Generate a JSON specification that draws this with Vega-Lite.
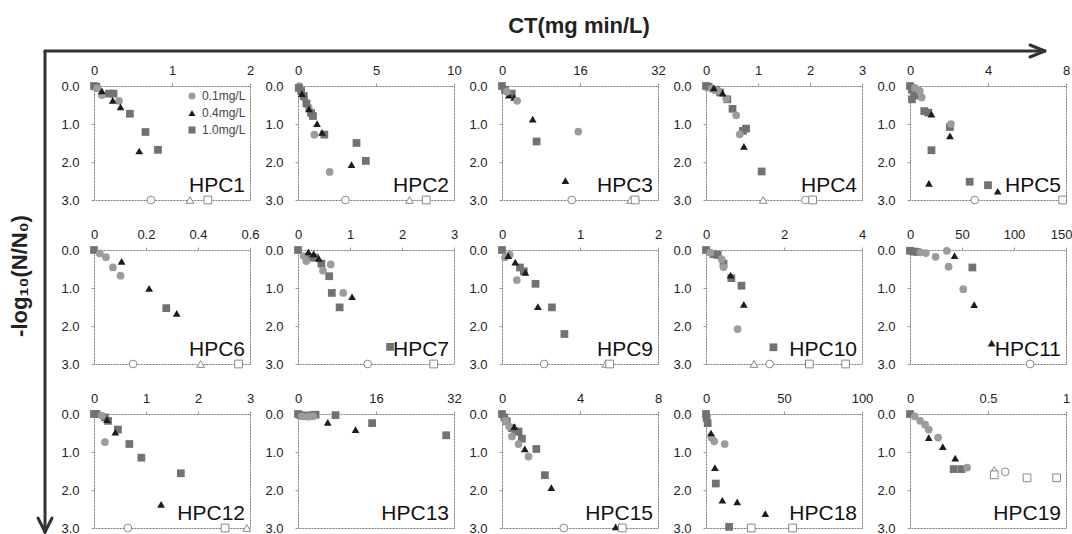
{
"$schema":"https://vega.github.io/schema/vega-lite/v6.json",
"padding":{"left":8,"top":14,"right":0,"bottom":0},
"background":"white",
"columns":5,
"spacing":{"row":50,"column":48},
"bounds":"flush",
"resolve":{"scale":{"x":"independent","y":"independent","color":"independent","shape":"independent"},"legend":{"color":"independent","shape":"independent"}},
"datasets":{"d":[
{"p":"HPC1","c":"1.0mg/L","x":0,"y":0,"o":0},{"p":"HPC1","c":"1.0mg/L","x":0.03,"y":0.02,"o":0},{"p":"HPC1","c":"1.0mg/L","x":0.19,"y":0.2,"o":0},{"p":"HPC1","c":"1.0mg/L","x":0.25,"y":0.2,"o":0},{"p":"HPC1","c":"1.0mg/L","x":0.46,"y":0.73,"o":0},{"p":"HPC1","c":"1.0mg/L","x":0.66,"y":1.21,"o":0},{"p":"HPC1","c":"1.0mg/L","x":0.82,"y":1.68,"o":0},
{"p":"HPC1","c":"0.1mg/L","x":0.04,"y":0.06,"o":0},{"p":"HPC1","c":"0.1mg/L","x":0.1,"y":0.24,"o":0},{"p":"HPC1","c":"0.1mg/L","x":0.32,"y":0.39,"o":0},
{"p":"HPC1","c":"0.4mg/L","x":0.1,"y":0.13,"o":0},{"p":"HPC1","c":"0.4mg/L","x":0.24,"y":0.38,"o":0},{"p":"HPC1","c":"0.4mg/L","x":0.34,"y":0.55,"o":0},{"p":"HPC1","c":"0.4mg/L","x":0.58,"y":1.71,"o":0},
{"p":"HPC1","c":"0.1mg/L","x":0.73,"y":3,"o":1},{"p":"HPC1","c":"0.4mg/L","x":1.23,"y":3,"o":1},{"p":"HPC1","c":"1.0mg/L","x":1.46,"y":3,"o":1},
{"p":"HPC2","c":"0.1mg/L","x":0.09,"y":0,"o":0},{"p":"HPC2","c":"0.1mg/L","x":0.4,"y":0.3,"o":0},{"p":"HPC2","c":"0.1mg/L","x":0.69,"y":0.57,"o":0},{"p":"HPC2","c":"0.1mg/L","x":1.05,"y":1.28,"o":0},{"p":"HPC2","c":"0.1mg/L","x":2.03,"y":2.26,"o":0},
{"p":"HPC2","c":"1.0mg/L","x":0.05,"y":0.05,"o":0},{"p":"HPC2","c":"1.0mg/L","x":0.2,"y":0.13,"o":0},{"p":"HPC2","c":"1.0mg/L","x":0.36,"y":0.26,"o":0},{"p":"HPC2","c":"1.0mg/L","x":0.54,"y":0.46,"o":0},{"p":"HPC2","c":"1.0mg/L","x":0.84,"y":0.71,"o":0},{"p":"HPC2","c":"1.0mg/L","x":0.96,"y":0.79,"o":0},{"p":"HPC2","c":"1.0mg/L","x":1.69,"y":1.28,"o":0},{"p":"HPC2","c":"1.0mg/L","x":3.75,"y":1.5,"o":0},{"p":"HPC2","c":"1.0mg/L","x":4.35,"y":1.97,"o":0},
{"p":"HPC2","c":"0.4mg/L","x":0.25,"y":0.2,"o":0},{"p":"HPC2","c":"0.4mg/L","x":0.7,"y":0.6,"o":0},{"p":"HPC2","c":"0.4mg/L","x":1.22,"y":0.99,"o":0},{"p":"HPC2","c":"0.4mg/L","x":1.54,"y":1.22,"o":0},{"p":"HPC2","c":"0.4mg/L","x":3.43,"y":2.07,"o":0},
{"p":"HPC2","c":"0.1mg/L","x":3.04,"y":3,"o":1},{"p":"HPC2","c":"0.4mg/L","x":7.15,"y":3,"o":1},{"p":"HPC2","c":"1.0mg/L","x":8.22,"y":3,"o":1},
{"p":"HPC3","c":"1.0mg/L","x":0,"y":0,"o":0},{"p":"HPC3","c":"1.0mg/L","x":0.6,"y":0.1,"o":0},{"p":"HPC3","c":"1.0mg/L","x":2,"y":0.2,"o":0},{"p":"HPC3","c":"1.0mg/L","x":7.1,"y":1.46,"o":0},
{"p":"HPC3","c":"0.4mg/L","x":1.4,"y":0.24,"o":0},{"p":"HPC3","c":"0.4mg/L","x":2.5,"y":0.3,"o":0},{"p":"HPC3","c":"0.4mg/L","x":6.3,"y":0.87,"o":0},{"p":"HPC3","c":"0.4mg/L","x":13,"y":2.49,"o":0},
{"p":"HPC3","c":"0.1mg/L","x":1,"y":0.15,"o":0},{"p":"HPC3","c":"0.1mg/L","x":3.1,"y":0.39,"o":0},{"p":"HPC3","c":"0.1mg/L","x":15.65,"y":1.2,"o":0},
{"p":"HPC3","c":"0.1mg/L","x":14.3,"y":3,"o":1},{"p":"HPC3","c":"0.4mg/L","x":26.4,"y":3,"o":1},{"p":"HPC3","c":"1.0mg/L","x":27.3,"y":3,"o":1},
{"p":"HPC4","c":"1.0mg/L","x":0,"y":0,"o":0},{"p":"HPC4","c":"1.0mg/L","x":0.05,"y":0.02,"o":0},{"p":"HPC4","c":"1.0mg/L","x":0.2,"y":0.1,"o":0},{"p":"HPC4","c":"1.0mg/L","x":0.27,"y":0.17,"o":0},{"p":"HPC4","c":"1.0mg/L","x":0.41,"y":0.35,"o":0},{"p":"HPC4","c":"1.0mg/L","x":0.51,"y":0.6,"o":0},{"p":"HPC4","c":"1.0mg/L","x":0.71,"y":1.18,"o":0},{"p":"HPC4","c":"1.0mg/L","x":0.77,"y":1.12,"o":0},{"p":"HPC4","c":"1.0mg/L","x":1.07,"y":2.25,"o":0},
{"p":"HPC4","c":"0.1mg/L","x":0.11,"y":0.07,"o":0},{"p":"HPC4","c":"0.1mg/L","x":0.22,"y":0.12,"o":0},{"p":"HPC4","c":"0.1mg/L","x":0.39,"y":0.33,"o":0},{"p":"HPC4","c":"0.1mg/L","x":0.58,"y":0.77,"o":0},{"p":"HPC4","c":"0.1mg/L","x":0.65,"y":1.27,"o":0},
{"p":"HPC4","c":"0.4mg/L","x":0.15,"y":0.05,"o":0},{"p":"HPC4","c":"0.4mg/L","x":0.32,"y":0.19,"o":0},{"p":"HPC4","c":"0.4mg/L","x":0.73,"y":1.59,"o":0},
{"p":"HPC4","c":"0.4mg/L","x":1.1,"y":3,"o":1},{"p":"HPC4","c":"0.1mg/L","x":1.91,"y":3,"o":1},{"p":"HPC4","c":"1.0mg/L","x":2.05,"y":3,"o":1},
{"p":"HPC5","c":"1.0mg/L","x":0,"y":0,"o":0},{"p":"HPC5","c":"1.0mg/L","x":0.1,"y":0.1,"o":0},{"p":"HPC5","c":"1.0mg/L","x":0.25,"y":0.25,"o":0},{"p":"HPC5","c":"1.0mg/L","x":0.1,"y":0.35,"o":0},{"p":"HPC5","c":"1.0mg/L","x":0.73,"y":0.66,"o":0},{"p":"HPC5","c":"1.0mg/L","x":0.94,"y":0.7,"o":0},{"p":"HPC5","c":"1.0mg/L","x":2.05,"y":1.08,"o":0},{"p":"HPC5","c":"1.0mg/L","x":1.1,"y":1.69,"o":0},{"p":"HPC5","c":"1.0mg/L","x":3.06,"y":2.52,"o":0},{"p":"HPC5","c":"1.0mg/L","x":4.0,"y":2.61,"o":0},
{"p":"HPC5","c":"0.1mg/L","x":0.5,"y":0.13,"o":0},{"p":"HPC5","c":"0.1mg/L","x":0.6,"y":0.3,"o":0},{"p":"HPC5","c":"0.1mg/L","x":0.25,"y":0.05,"o":0},{"p":"HPC5","c":"0.1mg/L","x":2.1,"y":1.0,"o":0},
{"p":"HPC5","c":"0.4mg/L","x":1.1,"y":0.74,"o":0},{"p":"HPC5","c":"0.4mg/L","x":2.05,"y":1.31,"o":0},{"p":"HPC5","c":"0.4mg/L","x":0.97,"y":2.56,"o":0},{"p":"HPC5","c":"0.4mg/L","x":4.5,"y":2.77,"o":0},
{"p":"HPC5","c":"0.1mg/L","x":3.32,"y":3,"o":1},{"p":"HPC5","c":"1.0mg/L","x":7.83,"y":3,"o":1},
{"p":"HPC6","c":"1.0mg/L","x":0,"y":0,"o":0},{"p":"HPC6","c":"1.0mg/L","x":0.278,"y":1.53,"o":0},
{"p":"HPC6","c":"0.1mg/L","x":0.0225,"y":0.09,"o":0},{"p":"HPC6","c":"0.1mg/L","x":0.046,"y":0.19,"o":0},{"p":"HPC6","c":"0.1mg/L","x":0.073,"y":0.46,"o":0},{"p":"HPC6","c":"0.1mg/L","x":0.102,"y":0.675,"o":0},
{"p":"HPC6","c":"0.4mg/L","x":0.106,"y":0.3,"o":0},{"p":"HPC6","c":"0.4mg/L","x":0.212,"y":1.01,"o":0},{"p":"HPC6","c":"0.4mg/L","x":0.318,"y":1.67,"o":0},
{"p":"HPC6","c":"0.1mg/L","x":0.15,"y":3,"o":1},{"p":"HPC6","c":"0.4mg/L","x":0.41,"y":3,"o":1},{"p":"HPC6","c":"1.0mg/L","x":0.556,"y":3,"o":1},
{"p":"HPC7","c":"1.0mg/L","x":0,"y":0,"o":0},{"p":"HPC7","c":"1.0mg/L","x":0.24,"y":0.2,"o":0},{"p":"HPC7","c":"1.0mg/L","x":0.33,"y":0.2,"o":0},{"p":"HPC7","c":"1.0mg/L","x":0.45,"y":0.36,"o":0},{"p":"HPC7","c":"1.0mg/L","x":0.6,"y":0.69,"o":0},{"p":"HPC7","c":"1.0mg/L","x":0.65,"y":1.13,"o":0},{"p":"HPC7","c":"1.0mg/L","x":0.8,"y":1.51,"o":0},{"p":"HPC7","c":"1.0mg/L","x":1.77,"y":2.55,"o":0},
{"p":"HPC7","c":"0.1mg/L","x":0.11,"y":0.16,"o":0},{"p":"HPC7","c":"0.1mg/L","x":0.16,"y":0.29,"o":0},{"p":"HPC7","c":"0.1mg/L","x":0.48,"y":0.54,"o":0},{"p":"HPC7","c":"0.1mg/L","x":0.63,"y":0.38,"o":0},{"p":"HPC7","c":"0.1mg/L","x":0.87,"y":1.13,"o":0},
{"p":"HPC7","c":"0.4mg/L","x":0.2,"y":0.05,"o":0},{"p":"HPC7","c":"0.4mg/L","x":0.3,"y":0.1,"o":0},{"p":"HPC7","c":"0.4mg/L","x":0.4,"y":0.22,"o":0},{"p":"HPC7","c":"0.4mg/L","x":1.04,"y":1.23,"o":0},
{"p":"HPC7","c":"0.1mg/L","x":1.34,"y":3,"o":1},{"p":"HPC7","c":"1.0mg/L","x":2.61,"y":3,"o":1},
{"p":"HPC9","c":"1.0mg/L","x":0,"y":0,"o":0},{"p":"HPC9","c":"1.0mg/L","x":0.23,"y":0.46,"o":0},{"p":"HPC9","c":"1.0mg/L","x":0.28,"y":0.56,"o":0},{"p":"HPC9","c":"1.0mg/L","x":0.43,"y":0.89,"o":0},{"p":"HPC9","c":"1.0mg/L","x":0.64,"y":1.51,"o":0},{"p":"HPC9","c":"1.0mg/L","x":0.8,"y":2.21,"o":0},
{"p":"HPC9","c":"0.1mg/L","x":0.04,"y":0.19,"o":0},{"p":"HPC9","c":"0.1mg/L","x":0.19,"y":0.79,"o":0},{"p":"HPC9","c":"0.1mg/L","x":0.1,"y":0.12,"o":0},
{"p":"HPC9","c":"0.4mg/L","x":0.08,"y":0.15,"o":0},{"p":"HPC9","c":"0.4mg/L","x":0.17,"y":0.32,"o":0},{"p":"HPC9","c":"0.4mg/L","x":0.3,"y":0.59,"o":0},{"p":"HPC9","c":"0.4mg/L","x":0.46,"y":1.49,"o":0},
{"p":"HPC9","c":"0.1mg/L","x":0.54,"y":3,"o":1},{"p":"HPC9","c":"0.4mg/L","x":1.33,"y":3,"o":1},{"p":"HPC9","c":"1.0mg/L","x":1.38,"y":3,"o":1},
{"p":"HPC10","c":"1.0mg/L","x":0,"y":0,"o":0},{"p":"HPC10","c":"1.0mg/L","x":0.19,"y":0.11,"o":0},{"p":"HPC10","c":"1.0mg/L","x":0.3,"y":0.13,"o":0},{"p":"HPC10","c":"1.0mg/L","x":0.45,"y":0.36,"o":0},{"p":"HPC10","c":"1.0mg/L","x":0.65,"y":0.74,"o":0},{"p":"HPC10","c":"1.0mg/L","x":0.91,"y":0.94,"o":0},{"p":"HPC10","c":"1.0mg/L","x":1.73,"y":2.56,"o":0},
{"p":"HPC10","c":"0.1mg/L","x":0.11,"y":0.07,"o":0},{"p":"HPC10","c":"0.1mg/L","x":0.4,"y":0.24,"o":0},{"p":"HPC10","c":"0.1mg/L","x":0.45,"y":0.45,"o":0},{"p":"HPC10","c":"0.1mg/L","x":0.81,"y":2.08,"o":0},
{"p":"HPC10","c":"0.4mg/L","x":0.63,"y":0.66,"o":0},{"p":"HPC10","c":"0.4mg/L","x":0.97,"y":1.43,"o":0},
{"p":"HPC10","c":"0.4mg/L","x":1.23,"y":3,"o":1},{"p":"HPC10","c":"0.1mg/L","x":1.63,"y":3,"o":1},{"p":"HPC10","c":"1.0mg/L","x":2.65,"y":3,"o":1},{"p":"HPC10","c":"1.0mg/L","x":3.58,"y":3,"o":1},
{"p":"HPC11","c":"1.0mg/L","x":0,"y":0.02,"o":0},{"p":"HPC11","c":"1.0mg/L","x":3.4,"y":0.04,"o":0},{"p":"HPC11","c":"1.0mg/L","x":6.7,"y":0.05,"o":0},{"p":"HPC11","c":"1.0mg/L","x":60,"y":0.46,"o":0},
{"p":"HPC11","c":"0.1mg/L","x":10,"y":0.06,"o":0},{"p":"HPC11","c":"0.1mg/L","x":15.2,"y":0.08,"o":0},{"p":"HPC11","c":"0.1mg/L","x":24.6,"y":0.18,"o":0},{"p":"HPC11","c":"0.1mg/L","x":35.4,"y":0.02,"o":0},{"p":"HPC11","c":"0.1mg/L","x":37.1,"y":0.44,"o":0},{"p":"HPC11","c":"0.1mg/L","x":51.2,"y":1.03,"o":0},
{"p":"HPC11","c":"0.4mg/L","x":42.8,"y":0.15,"o":0},{"p":"HPC11","c":"0.4mg/L","x":61.7,"y":1.44,"o":0},{"p":"HPC11","c":"0.4mg/L","x":78.5,"y":2.45,"o":0},
{"p":"HPC11","c":"0.1mg/L","x":115.6,"y":3,"o":1},
{"p":"HPC12","c":"1.0mg/L","x":0,"y":0,"o":0},{"p":"HPC12","c":"1.0mg/L","x":0.05,"y":0,"o":0},{"p":"HPC12","c":"1.0mg/L","x":0.21,"y":0.09,"o":0},{"p":"HPC12","c":"1.0mg/L","x":0.27,"y":0.18,"o":0},{"p":"HPC12","c":"1.0mg/L","x":0.46,"y":0.41,"o":0},{"p":"HPC12","c":"1.0mg/L","x":0.68,"y":0.79,"o":0},{"p":"HPC12","c":"1.0mg/L","x":0.91,"y":1.15,"o":0},{"p":"HPC12","c":"1.0mg/L","x":1.67,"y":1.56,"o":0},
{"p":"HPC12","c":"0.1mg/L","x":0.15,"y":0.04,"o":0},{"p":"HPC12","c":"0.1mg/L","x":0.21,"y":0.74,"o":0},
{"p":"HPC12","c":"0.4mg/L","x":0.25,"y":0.15,"o":0},{"p":"HPC12","c":"0.4mg/L","x":0.41,"y":0.48,"o":0},{"p":"HPC12","c":"0.4mg/L","x":1.29,"y":2.38,"o":0},
{"p":"HPC12","c":"0.1mg/L","x":0.65,"y":3,"o":1},{"p":"HPC12","c":"1.0mg/L","x":2.52,"y":3,"o":1},{"p":"HPC12","c":"0.4mg/L","x":2.94,"y":3,"o":1},
{"p":"HPC13","c":"1.0mg/L","x":0,"y":0,"o":0},{"p":"HPC13","c":"1.0mg/L","x":0.5,"y":0.03,"o":0},{"p":"HPC13","c":"1.0mg/L","x":1.2,"y":0.05,"o":0},{"p":"HPC13","c":"1.0mg/L","x":1.9,"y":0.04,"o":0},{"p":"HPC13","c":"1.0mg/L","x":2.9,"y":0.03,"o":0},{"p":"HPC13","c":"1.0mg/L","x":3.6,"y":0.02,"o":0},{"p":"HPC13","c":"1.0mg/L","x":7.7,"y":0.03,"o":0},{"p":"HPC13","c":"1.0mg/L","x":15.2,"y":0.24,"o":0},{"p":"HPC13","c":"1.0mg/L","x":30.4,"y":0.56,"o":0},
{"p":"HPC13","c":"0.1mg/L","x":0.8,"y":0.06,"o":0},{"p":"HPC13","c":"0.1mg/L","x":2.2,"y":0.07,"o":0},{"p":"HPC13","c":"0.1mg/L","x":3.1,"y":0.06,"o":0},
{"p":"HPC13","c":"0.4mg/L","x":6.1,"y":0.22,"o":0},{"p":"HPC13","c":"0.4mg/L","x":11.8,"y":0.41,"o":0},
{"p":"HPC15","c":"1.0mg/L","x":0,"y":0,"o":0},{"p":"HPC15","c":"1.0mg/L","x":0.12,"y":0.09,"o":0},{"p":"HPC15","c":"1.0mg/L","x":0.24,"y":0.19,"o":0},{"p":"HPC15","c":"1.0mg/L","x":0.51,"y":0.37,"o":0},{"p":"HPC15","c":"1.0mg/L","x":0.68,"y":0.46,"o":0},{"p":"HPC15","c":"1.0mg/L","x":0.85,"y":0.46,"o":0},{"p":"HPC15","c":"1.0mg/L","x":1.02,"y":0.65,"o":0},{"p":"HPC15","c":"1.0mg/L","x":1.76,"y":0.92,"o":0},{"p":"HPC15","c":"1.0mg/L","x":2.2,"y":1.61,"o":0},
{"p":"HPC15","c":"0.1mg/L","x":0.17,"y":0.18,"o":0},{"p":"HPC15","c":"0.1mg/L","x":0.37,"y":0.33,"o":0},{"p":"HPC15","c":"0.1mg/L","x":0.51,"y":0.59,"o":0},{"p":"HPC15","c":"0.1mg/L","x":0.85,"y":0.79,"o":0},{"p":"HPC15","c":"0.1mg/L","x":1.36,"y":1.12,"o":0},
{"p":"HPC15","c":"0.4mg/L","x":0.63,"y":0.33,"o":0},{"p":"HPC15","c":"0.4mg/L","x":1.17,"y":0.92,"o":0},{"p":"HPC15","c":"0.4mg/L","x":2.53,"y":1.94,"o":0},{"p":"HPC15","c":"0.4mg/L","x":5.83,"y":2.97,"o":0},
{"p":"HPC15","c":"0.1mg/L","x":3.17,"y":3,"o":1},{"p":"HPC15","c":"1.0mg/L","x":6.17,"y":3,"o":1},
{"p":"HPC18","c":"1.0mg/L","x":0,"y":0,"o":0},{"p":"HPC18","c":"1.0mg/L","x":0.4,"y":0.1,"o":0},{"p":"HPC18","c":"1.0mg/L","x":1.05,"y":0.24,"o":0},{"p":"HPC18","c":"1.0mg/L","x":6.3,"y":1.83,"o":0},{"p":"HPC18","c":"1.0mg/L","x":14.8,"y":2.97,"o":0},
{"p":"HPC18","c":"0.1mg/L","x":5.3,"y":0.72,"o":0},{"p":"HPC18","c":"0.1mg/L","x":3.5,"y":0.62,"o":0},{"p":"HPC18","c":"0.1mg/L","x":12,"y":0.79,"o":0},
{"p":"HPC18","c":"0.4mg/L","x":3.2,"y":0.5,"o":0},{"p":"HPC18","c":"0.4mg/L","x":5.7,"y":1.41,"o":0},{"p":"HPC18","c":"0.4mg/L","x":10.5,"y":2.27,"o":0},{"p":"HPC18","c":"0.4mg/L","x":20,"y":2.31,"o":0},{"p":"HPC18","c":"0.4mg/L","x":38,"y":2.62,"o":0},
{"p":"HPC18","c":"1.0mg/L","x":29,"y":3,"o":1},{"p":"HPC18","c":"1.0mg/L","x":55.5,"y":3,"o":1},
{"p":"HPC19","c":"1.0mg/L","x":0,"y":0,"o":0},{"p":"HPC19","c":"1.0mg/L","x":0.28,"y":1.45,"o":0},{"p":"HPC19","c":"1.0mg/L","x":0.33,"y":1.45,"o":0},
{"p":"HPC19","c":"0.1mg/L","x":0.03,"y":0.06,"o":0},{"p":"HPC19","c":"0.1mg/L","x":0.065,"y":0.18,"o":0},{"p":"HPC19","c":"0.1mg/L","x":0.097,"y":0.28,"o":0},{"p":"HPC19","c":"0.1mg/L","x":0.12,"y":0.41,"o":0},{"p":"HPC19","c":"0.1mg/L","x":0.18,"y":0.62,"o":0},{"p":"HPC19","c":"0.1mg/L","x":0.366,"y":1.41,"o":0},
{"p":"HPC19","c":"0.4mg/L","x":0.12,"y":0.62,"o":0},{"p":"HPC19","c":"0.4mg/L","x":0.21,"y":0.86,"o":0},{"p":"HPC19","c":"0.4mg/L","x":0.29,"y":1.16,"o":0},
{"p":"HPC19","c":"0.4mg/L","x":0.54,"y":1.47,"o":1},{"p":"HPC19","c":"1.0mg/L","x":0.54,"y":1.6,"o":1},{"p":"HPC19","c":"0.1mg/L","x":0.61,"y":1.52,"o":1},{"p":"HPC19","c":"1.0mg/L","x":0.75,"y":1.68,"o":1},{"p":"HPC19","c":"1.0mg/L","x":0.94,"y":1.68,"o":1}
],
"arrows":[
{"x":-0.628,"x2":12.19,"y":-0.921,"y2":-0.921},
{"x":12.0,"x2":12.19,"y":-1.079,"y2":-0.921},
{"x":12.0,"x2":12.19,"y":-0.763,"y2":-0.921},
{"x":-0.628,"x2":-0.628,"y":-0.921,"y2":11.737},
{"x":-0.718,"x2":-0.628,"y":11.368,"y2":11.737},
{"x":-0.538,"x2":-0.628,"y":11.368,"y2":11.737}
],
"titles":[
{"x":6.218,"y":-1.579,"t":"CT(mg min/L)","a":0,"s":22},
{"x":-0.949,"y":5.0,"t":"-log₁₀(N/N₀)","a":270,"s":22}
]},
"concat":[
{"width":156,"height":114,"data":{"name":"d"},"transform":[{"filter":"datum.p=='HPC1'"}],
 "encoding":{"x":{"field":"x","type":"quantitative","scale":{"domain":[0,2],"nice":false,"zero":false},"axis":{"orient":"top","values":[0,1,2],"format":"~f","title":null}},
  "y":{"field":"y","type":"quantitative","scale":{"domain":[0,3],"reverse":true,"nice":false},"axis":{"values":[0,1,2,3],"format":".1f","title":null}}},
 "layer":[
  {"transform":[{"filter":"datum.o==0"}],"mark":{"type":"point","filled":true,"size":60,"opacity":1},
   "encoding":{"color":{"field":"c","type":"nominal","scale":{"domain":["0.1mg/L","0.4mg/L","1.0mg/L"],"range":["#9c9c9c","#1c1c1c","#727272"]},"legend":{"orient":"top-right","title":null,"labelFontSize":12,"labelColor":"#444","symbolSize":50,"rowPadding":3,"offset":4,"padding":0,"symbolOpacity":1}},
    "shape":{"field":"c","type":"nominal","scale":{"domain":["0.1mg/L","0.4mg/L","1.0mg/L"],"range":["circle","triangle-up","square"]},"legend":{"orient":"top-right","title":null,"labelFontSize":12,"labelColor":"#444","symbolSize":50,"rowPadding":3,"offset":4,"padding":0,"symbolOpacity":1}}}},
  {"transform":[{"filter":"datum.o==1"}],"mark":{"type":"point","filled":true,"fill":"white","stroke":"#888","strokeWidth":1,"size":60,"opacity":1},
   "encoding":{"shape":{"field":"c","type":"nominal","scale":{"domain":["0.1mg/L","0.4mg/L","1.0mg/L"],"range":["circle","triangle-up","square"]},"legend":{"orient":"top-right","title":null,"labelFontSize":12,"labelColor":"#444","symbolSize":50,"rowPadding":3,"offset":4,"padding":0,"symbolOpacity":1}}}},
  {"data":{"values":[{}]},"mark":{"type":"text","align":"right","baseline":"alphabetic","dx":-5,"dy":-8,"fontSize":21,"color":"#111"},"encoding":{"x":{"value":"width"},"y":{"value":"height"},"text":{"value":"HPC1"}}},
  {"data":{"name":"arrows"},"mark":{"type":"rule","strokeWidth":3,"color":"#333","strokeCap":"round"},"encoding":{"x2":{"field":"x2"},"y2":{"field":"y2"}}},
  {"data":{"name":"titles"},"mark":{"type":"text","align":"center","baseline":"middle","fontWeight":"bold","color":"#222"},"encoding":{"text":{"field":"t","type":"nominal"},"angle":{"field":"a","type":"quantitative","scale":null},"size":{"field":"s","type":"quantitative","scale":null}}}
 ]},
{"width":156,"height":114,"data":{"name":"d"},"transform":[{"filter":"datum.p=='HPC2'"}],
 "encoding":{"x":{"field":"x","type":"quantitative","scale":{"domain":[0,10],"nice":false,"zero":false},"axis":{"orient":"top","values":[0,5,10],"format":"~f","title":null}},
  "y":{"field":"y","type":"quantitative","scale":{"domain":[0,3],"reverse":true,"nice":false},"axis":{"values":[0,1,2,3],"format":".1f","title":null}}},
 "layer":[
  {"transform":[{"filter":"datum.o==0"}],"mark":{"type":"point","filled":true,"size":60,"opacity":1},"encoding":{"color":{"field":"c","type":"nominal","scale":{"domain":["0.1mg/L","0.4mg/L","1.0mg/L"],"range":["#9c9c9c","#1c1c1c","#727272"]},"legend":null},"shape":{"field":"c","type":"nominal","scale":{"domain":["0.1mg/L","0.4mg/L","1.0mg/L"],"range":["circle","triangle-up","square"]},"legend":null}}},
  {"transform":[{"filter":"datum.o==1"}],"mark":{"type":"point","filled":true,"fill":"white","stroke":"#888","strokeWidth":1,"size":60,"opacity":1},"encoding":{"shape":{"field":"c","type":"nominal","scale":{"domain":["0.1mg/L","0.4mg/L","1.0mg/L"],"range":["circle","triangle-up","square"]},"legend":null}}},
  {"data":{"values":[{}]},"mark":{"type":"text","align":"right","baseline":"alphabetic","dx":-5,"dy":-8,"fontSize":21,"color":"#111"},"encoding":{"x":{"value":"width"},"y":{"value":"height"},"text":{"value":"HPC2"}}}
 ]},
{"width":156,"height":114,"data":{"name":"d"},"transform":[{"filter":"datum.p=='HPC3'"}],
 "encoding":{"x":{"field":"x","type":"quantitative","scale":{"domain":[0,32],"nice":false,"zero":false},"axis":{"orient":"top","values":[0,16,32],"format":"~f","title":null}},
  "y":{"field":"y","type":"quantitative","scale":{"domain":[0,3],"reverse":true,"nice":false},"axis":{"values":[0,1,2,3],"format":".1f","title":null}}},
 "layer":[
  {"transform":[{"filter":"datum.o==0"}],"mark":{"type":"point","filled":true,"size":60,"opacity":1},"encoding":{"color":{"field":"c","type":"nominal","scale":{"domain":["0.1mg/L","0.4mg/L","1.0mg/L"],"range":["#9c9c9c","#1c1c1c","#727272"]},"legend":null},"shape":{"field":"c","type":"nominal","scale":{"domain":["0.1mg/L","0.4mg/L","1.0mg/L"],"range":["circle","triangle-up","square"]},"legend":null}}},
  {"transform":[{"filter":"datum.o==1"}],"mark":{"type":"point","filled":true,"fill":"white","stroke":"#888","strokeWidth":1,"size":60,"opacity":1},"encoding":{"shape":{"field":"c","type":"nominal","scale":{"domain":["0.1mg/L","0.4mg/L","1.0mg/L"],"range":["circle","triangle-up","square"]},"legend":null}}},
  {"data":{"values":[{}]},"mark":{"type":"text","align":"right","baseline":"alphabetic","dx":-5,"dy":-8,"fontSize":21,"color":"#111"},"encoding":{"x":{"value":"width"},"y":{"value":"height"},"text":{"value":"HPC3"}}}
 ]},
{"width":156,"height":114,"data":{"name":"d"},"transform":[{"filter":"datum.p=='HPC4'"}],
 "encoding":{"x":{"field":"x","type":"quantitative","scale":{"domain":[0,3],"nice":false,"zero":false},"axis":{"orient":"top","values":[0,1,2,3],"format":"~f","title":null}},
  "y":{"field":"y","type":"quantitative","scale":{"domain":[0,3],"reverse":true,"nice":false},"axis":{"values":[0,1,2,3],"format":".1f","title":null}}},
 "layer":[
  {"transform":[{"filter":"datum.o==0"}],"mark":{"type":"point","filled":true,"size":60,"opacity":1},"encoding":{"color":{"field":"c","type":"nominal","scale":{"domain":["0.1mg/L","0.4mg/L","1.0mg/L"],"range":["#9c9c9c","#1c1c1c","#727272"]},"legend":null},"shape":{"field":"c","type":"nominal","scale":{"domain":["0.1mg/L","0.4mg/L","1.0mg/L"],"range":["circle","triangle-up","square"]},"legend":null}}},
  {"transform":[{"filter":"datum.o==1"}],"mark":{"type":"point","filled":true,"fill":"white","stroke":"#888","strokeWidth":1,"size":60,"opacity":1},"encoding":{"shape":{"field":"c","type":"nominal","scale":{"domain":["0.1mg/L","0.4mg/L","1.0mg/L"],"range":["circle","triangle-up","square"]},"legend":null}}},
  {"data":{"values":[{}]},"mark":{"type":"text","align":"right","baseline":"alphabetic","dx":-5,"dy":-8,"fontSize":21,"color":"#111"},"encoding":{"x":{"value":"width"},"y":{"value":"height"},"text":{"value":"HPC4"}}}
 ]},
{"width":156,"height":114,"data":{"name":"d"},"transform":[{"filter":"datum.p=='HPC5'"}],
 "encoding":{"x":{"field":"x","type":"quantitative","scale":{"domain":[0,8],"nice":false,"zero":false},"axis":{"orient":"top","values":[0,4,8],"format":"~f","title":null}},
  "y":{"field":"y","type":"quantitative","scale":{"domain":[0,3],"reverse":true,"nice":false},"axis":{"values":[0,1,2,3],"format":".1f","title":null}}},
 "layer":[
  {"transform":[{"filter":"datum.o==0"}],"mark":{"type":"point","filled":true,"size":60,"opacity":1},"encoding":{"color":{"field":"c","type":"nominal","scale":{"domain":["0.1mg/L","0.4mg/L","1.0mg/L"],"range":["#9c9c9c","#1c1c1c","#727272"]},"legend":null},"shape":{"field":"c","type":"nominal","scale":{"domain":["0.1mg/L","0.4mg/L","1.0mg/L"],"range":["circle","triangle-up","square"]},"legend":null}}},
  {"transform":[{"filter":"datum.o==1"}],"mark":{"type":"point","filled":true,"fill":"white","stroke":"#888","strokeWidth":1,"size":60,"opacity":1},"encoding":{"shape":{"field":"c","type":"nominal","scale":{"domain":["0.1mg/L","0.4mg/L","1.0mg/L"],"range":["circle","triangle-up","square"]},"legend":null}}},
  {"data":{"values":[{}]},"mark":{"type":"text","align":"right","baseline":"alphabetic","dx":-5,"dy":-8,"fontSize":21,"color":"#111"},"encoding":{"x":{"value":"width"},"y":{"value":"height"},"text":{"value":"HPC5"}}}
 ]},
{"width":156,"height":114,"data":{"name":"d"},"transform":[{"filter":"datum.p=='HPC6'"}],
 "encoding":{"x":{"field":"x","type":"quantitative","scale":{"domain":[0,0.6],"nice":false,"zero":false},"axis":{"orient":"top","values":[0,0.2,0.4,0.6],"format":"~f","title":null}},
  "y":{"field":"y","type":"quantitative","scale":{"domain":[0,3],"reverse":true,"nice":false},"axis":{"values":[0,1,2,3],"format":".1f","title":null}}},
 "layer":[
  {"transform":[{"filter":"datum.o==0"}],"mark":{"type":"point","filled":true,"size":60,"opacity":1},"encoding":{"color":{"field":"c","type":"nominal","scale":{"domain":["0.1mg/L","0.4mg/L","1.0mg/L"],"range":["#9c9c9c","#1c1c1c","#727272"]},"legend":null},"shape":{"field":"c","type":"nominal","scale":{"domain":["0.1mg/L","0.4mg/L","1.0mg/L"],"range":["circle","triangle-up","square"]},"legend":null}}},
  {"transform":[{"filter":"datum.o==1"}],"mark":{"type":"point","filled":true,"fill":"white","stroke":"#888","strokeWidth":1,"size":60,"opacity":1},"encoding":{"shape":{"field":"c","type":"nominal","scale":{"domain":["0.1mg/L","0.4mg/L","1.0mg/L"],"range":["circle","triangle-up","square"]},"legend":null}}},
  {"data":{"values":[{}]},"mark":{"type":"text","align":"right","baseline":"alphabetic","dx":-5,"dy":-8,"fontSize":21,"color":"#111"},"encoding":{"x":{"value":"width"},"y":{"value":"height"},"text":{"value":"HPC6"}}}
 ]},
{"width":156,"height":114,"data":{"name":"d"},"transform":[{"filter":"datum.p=='HPC7'"}],
 "encoding":{"x":{"field":"x","type":"quantitative","scale":{"domain":[0,3],"nice":false,"zero":false},"axis":{"orient":"top","values":[0,1,2,3],"format":"~f","title":null}},
  "y":{"field":"y","type":"quantitative","scale":{"domain":[0,3],"reverse":true,"nice":false},"axis":{"values":[0,1,2,3],"format":".1f","title":null}}},
 "layer":[
  {"transform":[{"filter":"datum.o==0"}],"mark":{"type":"point","filled":true,"size":60,"opacity":1},"encoding":{"color":{"field":"c","type":"nominal","scale":{"domain":["0.1mg/L","0.4mg/L","1.0mg/L"],"range":["#9c9c9c","#1c1c1c","#727272"]},"legend":null},"shape":{"field":"c","type":"nominal","scale":{"domain":["0.1mg/L","0.4mg/L","1.0mg/L"],"range":["circle","triangle-up","square"]},"legend":null}}},
  {"transform":[{"filter":"datum.o==1"}],"mark":{"type":"point","filled":true,"fill":"white","stroke":"#888","strokeWidth":1,"size":60,"opacity":1},"encoding":{"shape":{"field":"c","type":"nominal","scale":{"domain":["0.1mg/L","0.4mg/L","1.0mg/L"],"range":["circle","triangle-up","square"]},"legend":null}}},
  {"data":{"values":[{}]},"mark":{"type":"text","align":"right","baseline":"alphabetic","dx":-5,"dy":-8,"fontSize":21,"color":"#111"},"encoding":{"x":{"value":"width"},"y":{"value":"height"},"text":{"value":"HPC7"}}}
 ]},
{"width":156,"height":114,"data":{"name":"d"},"transform":[{"filter":"datum.p=='HPC9'"}],
 "encoding":{"x":{"field":"x","type":"quantitative","scale":{"domain":[0,2],"nice":false,"zero":false},"axis":{"orient":"top","values":[0,1,2],"format":"~f","title":null}},
  "y":{"field":"y","type":"quantitative","scale":{"domain":[0,3],"reverse":true,"nice":false},"axis":{"values":[0,1,2,3],"format":".1f","title":null}}},
 "layer":[
  {"transform":[{"filter":"datum.o==0"}],"mark":{"type":"point","filled":true,"size":60,"opacity":1},"encoding":{"color":{"field":"c","type":"nominal","scale":{"domain":["0.1mg/L","0.4mg/L","1.0mg/L"],"range":["#9c9c9c","#1c1c1c","#727272"]},"legend":null},"shape":{"field":"c","type":"nominal","scale":{"domain":["0.1mg/L","0.4mg/L","1.0mg/L"],"range":["circle","triangle-up","square"]},"legend":null}}},
  {"transform":[{"filter":"datum.o==1"}],"mark":{"type":"point","filled":true,"fill":"white","stroke":"#888","strokeWidth":1,"size":60,"opacity":1},"encoding":{"shape":{"field":"c","type":"nominal","scale":{"domain":["0.1mg/L","0.4mg/L","1.0mg/L"],"range":["circle","triangle-up","square"]},"legend":null}}},
  {"data":{"values":[{}]},"mark":{"type":"text","align":"right","baseline":"alphabetic","dx":-5,"dy":-8,"fontSize":21,"color":"#111"},"encoding":{"x":{"value":"width"},"y":{"value":"height"},"text":{"value":"HPC9"}}}
 ]},
{"width":156,"height":114,"data":{"name":"d"},"transform":[{"filter":"datum.p=='HPC10'"}],
 "encoding":{"x":{"field":"x","type":"quantitative","scale":{"domain":[0,4],"nice":false,"zero":false},"axis":{"orient":"top","values":[0,2,4],"format":"~f","title":null}},
  "y":{"field":"y","type":"quantitative","scale":{"domain":[0,3],"reverse":true,"nice":false},"axis":{"values":[0,1,2,3],"format":".1f","title":null}}},
 "layer":[
  {"transform":[{"filter":"datum.o==0"}],"mark":{"type":"point","filled":true,"size":60,"opacity":1},"encoding":{"color":{"field":"c","type":"nominal","scale":{"domain":["0.1mg/L","0.4mg/L","1.0mg/L"],"range":["#9c9c9c","#1c1c1c","#727272"]},"legend":null},"shape":{"field":"c","type":"nominal","scale":{"domain":["0.1mg/L","0.4mg/L","1.0mg/L"],"range":["circle","triangle-up","square"]},"legend":null}}},
  {"transform":[{"filter":"datum.o==1"}],"mark":{"type":"point","filled":true,"fill":"white","stroke":"#888","strokeWidth":1,"size":60,"opacity":1},"encoding":{"shape":{"field":"c","type":"nominal","scale":{"domain":["0.1mg/L","0.4mg/L","1.0mg/L"],"range":["circle","triangle-up","square"]},"legend":null}}},
  {"data":{"values":[{}]},"mark":{"type":"text","align":"right","baseline":"alphabetic","dx":-5,"dy":-8,"fontSize":21,"color":"#111"},"encoding":{"x":{"value":"width"},"y":{"value":"height"},"text":{"value":"HPC10"}}}
 ]},
{"width":156,"height":114,"data":{"name":"d"},"transform":[{"filter":"datum.p=='HPC11'"}],
 "encoding":{"x":{"field":"x","type":"quantitative","scale":{"domain":[0,150],"nice":false,"zero":false},"axis":{"orient":"top","values":[0,50,100,150],"format":"~f","title":null,"labelAlign":{"condition":{"test":"datum.value==150","value":"right"},"value":"center"},"labelOffset":{"condition":{"test":"datum.value==150","value":6},"value":0}}},
  "y":{"field":"y","type":"quantitative","scale":{"domain":[0,3],"reverse":true,"nice":false},"axis":{"values":[0,1,2,3],"format":".1f","title":null}}},
 "layer":[
  {"transform":[{"filter":"datum.o==0"}],"mark":{"type":"point","filled":true,"size":60,"opacity":1},"encoding":{"color":{"field":"c","type":"nominal","scale":{"domain":["0.1mg/L","0.4mg/L","1.0mg/L"],"range":["#9c9c9c","#1c1c1c","#727272"]},"legend":null},"shape":{"field":"c","type":"nominal","scale":{"domain":["0.1mg/L","0.4mg/L","1.0mg/L"],"range":["circle","triangle-up","square"]},"legend":null}}},
  {"transform":[{"filter":"datum.o==1"}],"mark":{"type":"point","filled":true,"fill":"white","stroke":"#888","strokeWidth":1,"size":60,"opacity":1},"encoding":{"shape":{"field":"c","type":"nominal","scale":{"domain":["0.1mg/L","0.4mg/L","1.0mg/L"],"range":["circle","triangle-up","square"]},"legend":null}}},
  {"data":{"values":[{}]},"mark":{"type":"text","align":"right","baseline":"alphabetic","dx":-5,"dy":-8,"fontSize":21,"color":"#111"},"encoding":{"x":{"value":"width"},"y":{"value":"height"},"text":{"value":"HPC11"}}}
 ]},
{"width":156,"height":114,"data":{"name":"d"},"transform":[{"filter":"datum.p=='HPC12'"}],
 "encoding":{"x":{"field":"x","type":"quantitative","scale":{"domain":[0,3],"nice":false,"zero":false},"axis":{"orient":"top","values":[0,1,2,3],"format":"~f","title":null}},
  "y":{"field":"y","type":"quantitative","scale":{"domain":[0,3],"reverse":true,"nice":false},"axis":{"values":[0,1,2,3],"format":".1f","title":null}}},
 "layer":[
  {"transform":[{"filter":"datum.o==0"}],"mark":{"type":"point","filled":true,"size":60,"opacity":1},"encoding":{"color":{"field":"c","type":"nominal","scale":{"domain":["0.1mg/L","0.4mg/L","1.0mg/L"],"range":["#9c9c9c","#1c1c1c","#727272"]},"legend":null},"shape":{"field":"c","type":"nominal","scale":{"domain":["0.1mg/L","0.4mg/L","1.0mg/L"],"range":["circle","triangle-up","square"]},"legend":null}}},
  {"transform":[{"filter":"datum.o==1"}],"mark":{"type":"point","filled":true,"fill":"white","stroke":"#888","strokeWidth":1,"size":60,"opacity":1},"encoding":{"shape":{"field":"c","type":"nominal","scale":{"domain":["0.1mg/L","0.4mg/L","1.0mg/L"],"range":["circle","triangle-up","square"]},"legend":null}}},
  {"data":{"values":[{}]},"mark":{"type":"text","align":"right","baseline":"alphabetic","dx":-5,"dy":-8,"fontSize":21,"color":"#111"},"encoding":{"x":{"value":"width"},"y":{"value":"height"},"text":{"value":"HPC12"}}}
 ]},
{"width":156,"height":114,"data":{"name":"d"},"transform":[{"filter":"datum.p=='HPC13'"}],
 "encoding":{"x":{"field":"x","type":"quantitative","scale":{"domain":[0,32],"nice":false,"zero":false},"axis":{"orient":"top","values":[0,16,32],"format":"~f","title":null}},
  "y":{"field":"y","type":"quantitative","scale":{"domain":[0,3],"reverse":true,"nice":false},"axis":{"values":[0,1,2,3],"format":".1f","title":null}}},
 "layer":[
  {"transform":[{"filter":"datum.o==0"}],"mark":{"type":"point","filled":true,"size":60,"opacity":1},"encoding":{"color":{"field":"c","type":"nominal","scale":{"domain":["0.1mg/L","0.4mg/L","1.0mg/L"],"range":["#9c9c9c","#1c1c1c","#727272"]},"legend":null},"shape":{"field":"c","type":"nominal","scale":{"domain":["0.1mg/L","0.4mg/L","1.0mg/L"],"range":["circle","triangle-up","square"]},"legend":null}}},
  {"transform":[{"filter":"datum.o==1"}],"mark":{"type":"point","filled":true,"fill":"white","stroke":"#888","strokeWidth":1,"size":60,"opacity":1},"encoding":{"shape":{"field":"c","type":"nominal","scale":{"domain":["0.1mg/L","0.4mg/L","1.0mg/L"],"range":["circle","triangle-up","square"]},"legend":null}}},
  {"data":{"values":[{}]},"mark":{"type":"text","align":"right","baseline":"alphabetic","dx":-5,"dy":-8,"fontSize":21,"color":"#111"},"encoding":{"x":{"value":"width"},"y":{"value":"height"},"text":{"value":"HPC13"}}}
 ]},
{"width":156,"height":114,"data":{"name":"d"},"transform":[{"filter":"datum.p=='HPC15'"}],
 "encoding":{"x":{"field":"x","type":"quantitative","scale":{"domain":[0,8],"nice":false,"zero":false},"axis":{"orient":"top","values":[0,4,8],"format":"~f","title":null}},
  "y":{"field":"y","type":"quantitative","scale":{"domain":[0,3],"reverse":true,"nice":false},"axis":{"values":[0,1,2,3],"format":".1f","title":null}}},
 "layer":[
  {"transform":[{"filter":"datum.o==0"}],"mark":{"type":"point","filled":true,"size":60,"opacity":1},"encoding":{"color":{"field":"c","type":"nominal","scale":{"domain":["0.1mg/L","0.4mg/L","1.0mg/L"],"range":["#9c9c9c","#1c1c1c","#727272"]},"legend":null},"shape":{"field":"c","type":"nominal","scale":{"domain":["0.1mg/L","0.4mg/L","1.0mg/L"],"range":["circle","triangle-up","square"]},"legend":null}}},
  {"transform":[{"filter":"datum.o==1"}],"mark":{"type":"point","filled":true,"fill":"white","stroke":"#888","strokeWidth":1,"size":60,"opacity":1},"encoding":{"shape":{"field":"c","type":"nominal","scale":{"domain":["0.1mg/L","0.4mg/L","1.0mg/L"],"range":["circle","triangle-up","square"]},"legend":null}}},
  {"data":{"values":[{}]},"mark":{"type":"text","align":"right","baseline":"alphabetic","dx":-5,"dy":-8,"fontSize":21,"color":"#111"},"encoding":{"x":{"value":"width"},"y":{"value":"height"},"text":{"value":"HPC15"}}}
 ]},
{"width":156,"height":114,"data":{"name":"d"},"transform":[{"filter":"datum.p=='HPC18'"}],
 "encoding":{"x":{"field":"x","type":"quantitative","scale":{"domain":[0,100],"nice":false,"zero":false},"axis":{"orient":"top","values":[0,50,100],"format":"~f","title":null}},
  "y":{"field":"y","type":"quantitative","scale":{"domain":[0,3],"reverse":true,"nice":false},"axis":{"values":[0,1,2,3],"format":".1f","title":null}}},
 "layer":[
  {"transform":[{"filter":"datum.o==0"}],"mark":{"type":"point","filled":true,"size":60,"opacity":1},"encoding":{"color":{"field":"c","type":"nominal","scale":{"domain":["0.1mg/L","0.4mg/L","1.0mg/L"],"range":["#9c9c9c","#1c1c1c","#727272"]},"legend":null},"shape":{"field":"c","type":"nominal","scale":{"domain":["0.1mg/L","0.4mg/L","1.0mg/L"],"range":["circle","triangle-up","square"]},"legend":null}}},
  {"transform":[{"filter":"datum.o==1"}],"mark":{"type":"point","filled":true,"fill":"white","stroke":"#888","strokeWidth":1,"size":60,"opacity":1},"encoding":{"shape":{"field":"c","type":"nominal","scale":{"domain":["0.1mg/L","0.4mg/L","1.0mg/L"],"range":["circle","triangle-up","square"]},"legend":null}}},
  {"data":{"values":[{}]},"mark":{"type":"text","align":"right","baseline":"alphabetic","dx":-5,"dy":-8,"fontSize":21,"color":"#111"},"encoding":{"x":{"value":"width"},"y":{"value":"height"},"text":{"value":"HPC18"}}}
 ]},
{"width":156,"height":114,"data":{"name":"d"},"transform":[{"filter":"datum.p=='HPC19'"}],
 "encoding":{"x":{"field":"x","type":"quantitative","scale":{"domain":[0,1],"nice":false,"zero":false},"axis":{"orient":"top","values":[0,0.5,1],"format":"~f","title":null}},
  "y":{"field":"y","type":"quantitative","scale":{"domain":[0,3],"reverse":true,"nice":false},"axis":{"values":[0,1,2,3],"format":".1f","title":null}}},
 "layer":[
  {"transform":[{"filter":"datum.o==0"}],"mark":{"type":"point","filled":true,"size":60,"opacity":1},"encoding":{"color":{"field":"c","type":"nominal","scale":{"domain":["0.1mg/L","0.4mg/L","1.0mg/L"],"range":["#9c9c9c","#1c1c1c","#727272"]},"legend":null},"shape":{"field":"c","type":"nominal","scale":{"domain":["0.1mg/L","0.4mg/L","1.0mg/L"],"range":["circle","triangle-up","square"]},"legend":null}}},
  {"transform":[{"filter":"datum.o==1"}],"mark":{"type":"point","filled":true,"fill":"white","stroke":"#888","strokeWidth":1,"size":60,"opacity":1},"encoding":{"shape":{"field":"c","type":"nominal","scale":{"domain":["0.1mg/L","0.4mg/L","1.0mg/L"],"range":["circle","triangle-up","square"]},"legend":null}}},
  {"data":{"values":[{}]},"mark":{"type":"text","align":"right","baseline":"alphabetic","dx":-5,"dy":-8,"fontSize":21,"color":"#111"},"encoding":{"x":{"value":"width"},"y":{"value":"height"},"text":{"value":"HPC19"}}}
 ]}
],
"config":{
 "font":"Liberation Sans",
 "view":{"stroke":"#777","strokeDash":[2,1],"strokeWidth":1},
 "axis":{"grid":false,"domain":false,"labelFont":"Liberation Sans","labelFontSize":13,"labelColor":"#222","tickColor":"#999","tickSize":3,"labelFlush":false,"labelOverlap":false,"labelBound":false},
 "axisX":{"labelPadding":6},
 "axisY":{"labelPadding":12},
 "text":{"font":"Liberation Sans"}
}
}
